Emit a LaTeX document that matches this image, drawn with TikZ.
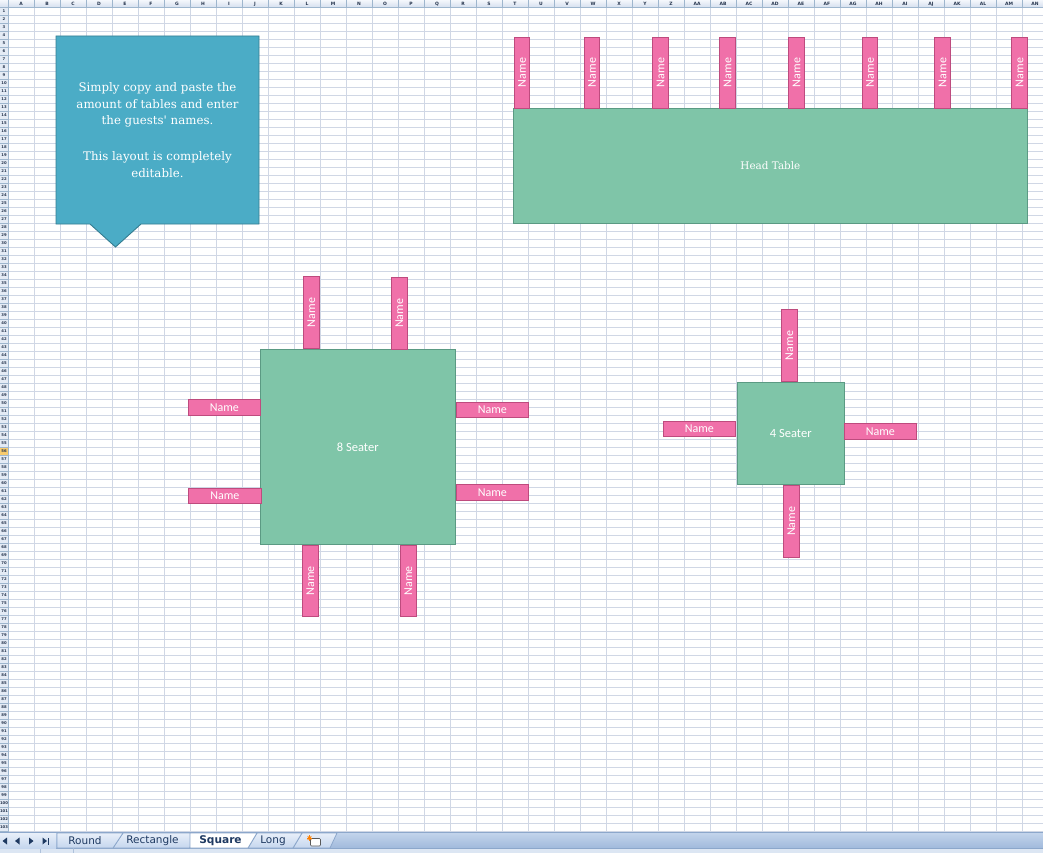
\documentclass[tikz,border=0pt]{standalone}
\usepackage{fontspec}
\setmainfont{DejaVu Serif}
\newfontfamily\carl{Carlito}
\newfontfamily\dvs{DejaVu Sans}
\newfontfamily\dvserif{DejaVu Serif}
\definecolor{gridc}{HTML}{D0D7E5}
\definecolor{hdrline}{HTML}{9EB6CE}
\definecolor{hdrtop}{HTML}{F4F7FC}
\definecolor{hdrbot}{HTML}{D5DFEE}
\definecolor{hdrtext}{HTML}{27364F}
\definecolor{pinkfill}{HTML}{F070A9}
\definecolor{pinkline}{HTML}{BE4B7E}
\definecolor{tablefill}{HTML}{7FC5A8}
\definecolor{tableline}{HTML}{5B9A83}
\definecolor{callfill}{HTML}{4BACC6}
\definecolor{callline}{HTML}{357D91}
\definecolor{striptop}{HTML}{C4D5EC}
\definecolor{stripbot}{HTML}{A1BADC}
\definecolor{sheettop}{HTML}{E8EFF9}
\definecolor{sheetbot}{HTML}{C5D6EE}
\definecolor{sheetline}{HTML}{8CA7CB}
\definecolor{tabtext}{HTML}{1F3A62}
\definecolor{cellhl}{HTML}{F8CB6E}
\definecolor{statusfill}{HTML}{DCE6F3}
\tikzset{
  gridline/.style={gridc, line width=0.9},
  hdrsep/.style={hdrline, line width=0.8},
  collab/.style={text=hdrtext, font=\dvs\bfseries\fontsize{4.5}{4.5}\selectfont, inner sep=0},
  rowlab/.style={text=hdrtext, font=\dvs\bfseries\fontsize{3.8}{3.8}\selectfont, inner sep=0},
  namebox/.style={draw=pinkline, fill=pinkfill, line width=0.9, text=white,
    font=\carl\fontsize{12}{12}\selectfont, inner sep=0, minimum width=72, minimum height=15.5},
  vname/.style={namebox, rotate=90},
  tablebox/.style={draw=tableline, fill=tablefill, line width=0.9, text=white, inner sep=0},
  tableserif/.style={font=\dvserif\fontsize{10.4}{10.4}\selectfont},
  tablesans/.style={font=\carl\fontsize{12.5}{12.5}\selectfont},
  sheettab/.style={draw=sheetline, line width=0.8, top color=sheettop, bottom color=sheetbot},
  tablabel/.style={text=tabtext, font=\dvs\fontsize{10.5}{10.5}\selectfont, inner sep=0},
  navtri/.style={fill=tabtext}
}
\begin{document}
\begin{tikzpicture}[x=1pt,y=-1pt]
\useasboundingbox (0,0) rectangle (1043,853);
\fill[white] (0,0) rectangle (1043,853);
% grid
\foreach \k in {1,...,39} \draw[gridline] ({8+26*\k},7.5) -- ({8+26*\k},832);
\foreach \k in {1,...,103} \draw[gridline] (8,{7.5+8*\k}) -- (1043,{7.5+8*\k});
% headers
\shade[top color=hdrtop, bottom color=hdrbot] (0,0) rectangle (1043,7.5);
\fill[hdrtop!50!hdrbot] (0,7.5) rectangle (8,832);
\fill[cellhl] (0,447.5) rectangle (8,455.5);
\foreach \k in {1,...,39} \draw[hdrsep] ({8+26*\k},0) -- ({8+26*\k},7.5);
\foreach \k in {1,...,103} \draw[hdrsep] (0,{7.5+8*\k}) -- (8,{7.5+8*\k});
\draw[hdrsep] (0,7.5) -- (1043,7.5);
\draw[hdrsep] (8,0) -- (8,832);
\foreach \l [count=\i] in {A,B,C,D,E,F,G,H,I,J,K,L,M,N,O,P,Q,R,S,T,U,V,W,X,Y,Z,AA,AB,AC,AD,AE,AF,AG,AH,AI,AJ,AK,AL,AM,AN}
  \node[collab] (col\l) at ({26*\i-5},3.9) {\l};
\foreach \r in {1,...,103}
  \node[rowlab] (row\r) at (4,{3.5+8*\r}) {\r};

% callout
\draw[fill=callfill, draw=callline, line width=0.9]
  (56,36) -- (259,36) -- (259,224) -- (141,224) -- (115.5,247) -- (90,224) -- (56,224) -- cycle;
\node[text=white, align=center, inner sep=0, font=\dvserif\fontsize{11.8}{16.7}\selectfont] (note) at (157.5,130)
  {Simply copy and paste the\\amount of tables and enter\\the guests' names.\\[19pt]This layout is completely\\editable.};

% head table
\node[tablebox, tableserif, minimum width=514, minimum height=114.7] (head) at (770.4,165.65) {Head Table};
\foreach \x [count=\i] in {522,592,660.5,727.5,796.5,870,942.5,1019.5}
  \node[vname, minimum width=71] (h\i) at (\x,72.5) {Name};

% 8 seater
\node[tablebox, tablesans, minimum width=195, minimum height=195] (eight) at (357.8,446.8) {8 Seater};
\node[vname] (e1) at (311.3,312.5) {Name};
\node[vname] (e2) at (399.3,313.3) {Name};
\node[namebox] (e3) at (224.3,407.3) {Name};
\node[namebox, minimum width=73, minimum height=15] (e4) at (224.8,495.8) {Name};
\node[namebox, minimum height=14.7] (e5) at (492.3,409.7) {Name};
\node[namebox] (e6) at (492.3,492.3) {Name};
\node[vname, minimum width=71] (e7) at (310.3,580.8) {Name};
\node[vname, minimum width=71] (e8) at (408.3,580.8) {Name};

% 4 seater
\node[tablebox, tablesans, minimum width=107, minimum height=102] (four) at (790.8,433.3) {4 Seater};
\node[vname] (f1) at (789.3,345.5) {Name};
\node[namebox, minimum height=15] (f2) at (699.3,428.8) {Name};
\node[namebox, minimum height=16] (f3) at (880.3,431.3) {Name};
\node[vname] (f4) at (791.3,521.3) {Name};

% sheet tab strip
\shade[top color=striptop, bottom color=stripbot] (0,832) rectangle (1043,848);
\draw[sheetline, line width=1] (0,832.5) -- (1043,832.5);
\fill[statusfill] (0,848) rectangle (1043,853);
\draw[sheetline, line width=0.8] (0,848) -- (1043,848);
\draw[sheetline!70, line width=0.6] (40,848) -- (40,853) (73,848) -- (73,853);
\shade[top color=sheettop, bottom color=sheetbot] (0,833) rectangle (56,848);
% navigation arrows
\fill[navtri] (2.5,841) -- (7,837.5) -- (7,844.5) -- cycle;
\fill[navtri] (15,841) -- (19.5,837.5) -- (19.5,844.5) -- cycle;
\fill[navtri] (33.5,841) -- (29,837.5) -- (29,844.5) -- cycle;
\fill[navtri] (47,841) -- (42.5,837.5) -- (42.5,844.5) -- cycle;
\fill[navtri] (47.5,837.5) rectangle (48.7,844.5);
% tabs
\draw[sheettab] (302,833) -- (337,833) -- (330,848) -- (293,848) -- cycle;
\draw[sheettab] (257,833) -- (302,833) -- (293,848) -- (248,848) -- cycle;
\draw[sheettab] (123,833) -- (193,833) -- (190,848) -- (113,848) -- cycle;
\draw[sheettab] (57,833) -- (123,833) -- (113,848) -- (57,848) -- cycle;
\draw[sheetline, line width=0.8, fill=white] (190,833) -- (257,833) -- (248,848) -- (190,848) -- cycle;
\node[tablabel] (tRound) at (85,841) {Round};
\node[tablabel] (tRect) at (152.5,841) {Rectangle};
\node[tablabel, font=\dvs\bfseries\fontsize{10.6}{10.6}\selectfont] (tSquare) at (220.5,841) {Square};
\node[tablabel] (tLong) at (273,841) {Long};
% new sheet icon
\draw[gray!70!black, fill=white, line width=0.6, rounded corners=1] (310.5,838.5) rectangle (320.5,846);
\fill[orange] (309.5,838) circle (1.8);
\foreach \a in {0,45,...,315} \draw[orange, line width=0.5] (309.5,838) -- ++(\a:2.8);
\end{tikzpicture}
\end{document}
